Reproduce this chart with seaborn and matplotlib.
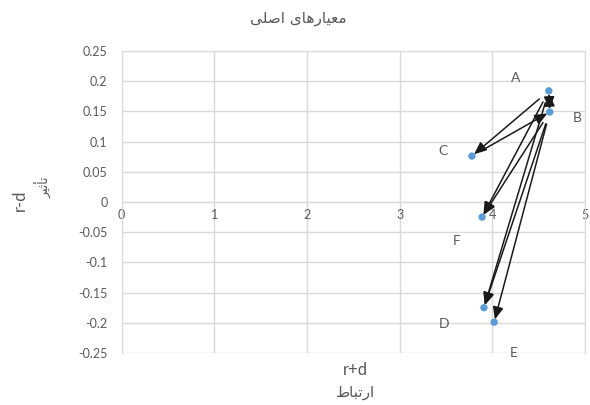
import matplotlib
matplotlib.use("Agg")
import matplotlib.pyplot as plt
import seaborn as sns
import pandas as pd

# Criteria positions: relation (r+d) vs. influence (r-d)
labels = ["A", "B", "C", "D", "E", "F"]
r_plus_d = [4.61, 4.62, 3.78, 3.91, 4.02, 3.89]
r_minus_d = [0.184, 0.149, 0.076, -0.175, -0.199, -0.025]

# Influence links between criteria (source -> target)
links = [("A", "B"), ("B", "A"), ("A", "C"), ("C", "B"), ("A", "F"),
         ("B", "F"), ("A", "D"), ("B", "D"), ("B", "E")]

x_ticks = [0, 1, 2, 3, 4, 5]
y_ticks = [-0.25, -0.2, -0.15, -0.1, -0.05, 0, 0.05, 0.1, 0.15, 0.2, 0.25]

# Persian text written in presentation forms, visual order
title_text = "\uFEF0\uFEE0\uFEBB\uFE8D \uFEEF\uFE8E\uFEEB\uFEAD\uFE8E\uFEF4\uFECC\uFEE3"   # معیارهای اصلی
x_sub_text = "\uFEC1\uFE8E\uFE92\uFE97\uFEAD\uFE8D"                                     # ارتباط
y_sub_text = "\uFEAE\uFEF4\uFE9B\uFE84\uFE97"                                           # تأثیر

df = pd.DataFrame({"label": labels, "x": r_plus_d, "y": r_minus_d})
pos = {l: (x, y) for l, x, y in zip(labels, r_plus_d, r_minus_d)}

sns.set_style("white")
plt.rcParams["font.family"] = ["Lato", "DejaVu Sans"]
grey = "#595959"
grid_c = "#d9d9d9"

fig = plt.figure(figsize=(5.9, 4.05), dpi=100)
ax = fig.add_axes([121.5 / 590, 1 - 353 / 405, 463.5 / 590, 302 / 405])

sns.scatterplot(data=df, x="x", y="y", ax=ax, color="#5B9BD5", s=28,
                edgecolor="none", zorder=3, legend=False)

ax.set_xlim(0, 5)
ax.set_ylim(-0.25, 0.25)
ax.set_xticks(x_ticks)
ax.set_yticks(y_ticks)
ax.set_xticklabels([str(v) for v in x_ticks])
ax.set_yticklabels(["0" if v == 0 else f"{v:g}" for v in y_ticks])
ax.grid(True, color=grid_c, linewidth=1)
ax.set_axisbelow(True)
for side in ["top", "right", "left"]:
    ax.spines[side].set_color(grid_c)
ax.spines["bottom"].set_position(("data", 0))
ax.spines["bottom"].set_color(grid_c)
ax.tick_params(axis="both", length=0, labelsize=9, labelcolor=grey)
ax.tick_params(axis="y", pad=10)
ax.tick_params(axis="x", pad=5)
ax.set_xlabel("")
ax.set_ylabel("")

# Point labels
offsets = {"A": (-24, 9), "B": (20, -4), "C": (-21, 4),
           "D": (-29, -12), "E": (14, -22), "F": (-18, -17)}
for l in labels:
    ax.annotate(l, pos[l], xytext=offsets[l], textcoords="offset points",
                ha="center", va="center", fontsize=10, color=grey)

# Arrows between criteria
for src, dst in links:
    ax.annotate("", xy=pos[dst], xytext=pos[src],
                arrowprops=dict(arrowstyle="-|>,head_length=0.75,head_width=0.32",
                                color="#1a1a1a", lw=1.1, shrinkA=9, shrinkB=2),
                zorder=4)

fig.text(0.505, 0.955, title_text, ha="center", va="center",
         fontsize=11, color=grey, family=["DejaVu Sans"])
fig.text(355 / 590, 1 - 370 / 405, "r+d", ha="center", va="center",
         fontsize=12, color=grey)
fig.text(355 / 590, 1 - 393 / 405, x_sub_text, ha="center", va="center",
         fontsize=11, color=grey, family=["DejaVu Sans"])
fig.text(20 / 590, 1 - 200 / 405, "r-d", ha="center", va="center",
         fontsize=12, color=grey, rotation=90)
fig.text(44 / 590, 1 - 187 / 405, y_sub_text, ha="center", va="center",
         fontsize=9, color=grey, rotation=90, family=["DejaVu Sans"])

fig.savefig("out.png", dpi=100)
